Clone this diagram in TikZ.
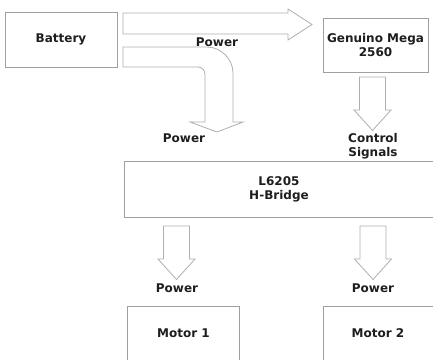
\documentclass[tikz,border=0pt]{standalone}
\usepackage{fontspec}
\setmainfont{DejaVu Sans}
\usetikzlibrary{positioning,calc}
\definecolor{BoxGray}{RGB}{160,160,160}
\definecolor{FlowGray}{RGB}{175,175,175}
\definecolor{TextGray}{RGB}{30,30,30}
\tikzset{
  labelfont/.style={font=\bfseries\fontsize{12}{14.5}\selectfont,text=TextGray},
  blockbox/.style={draw=BoxGray,line width=0.9pt,fill=white,align=center,labelfont,inner sep=0pt},
  openbox/.style={blockbox,draw=none},
  flowlabel/.style={align=center,labelfont,inner sep=0pt},
  flowarrow/.style={draw=FlowGray,line width=0.8pt,fill=white,line join=miter},
  boxedge/.style={draw=BoxGray,line width=0.9pt},
  pics/downflow/.style={code={
    \draw[flowarrow] (-13,0) -- (13,0) -- (13,33) -- (18.5,33) -- (0,53.5)
      -- (-18.5,33) -- (-13,33) -- cycle;
  }}
}
\begin{document}
\begin{tikzpicture}[x=1pt,y=-1pt]
\useasboundingbox (0,0) rectangle (433,360);

% blocks
\node[blockbox,minimum width=112pt,minimum height=55pt] (bat) at (61,39.5) {Battery};
\node[blockbox,minimum width=105pt,minimum height=54pt] (gm) at (375.5,45) {Genuino Mega\\2560};
\node[openbox,minimum width=308pt,minimum height=55pt] (hb) at (279,189.5) {L6205\\H-Bridge};
\draw[boxedge] (hb.north east) -- (hb.north west) -- (hb.south west) -- (hb.south east);
\node[openbox,minimum width=111pt,minimum height=53pt] (m1) at (183.5,333.5) {Motor 1};
\node[openbox,minimum width=109pt,minimum height=53pt] (m2) at (378,333.5) {Motor 2};
\draw[boxedge] (m1.south west) -- (m1.north west) -- (m1.north east) -- (m1.south east);
\draw[boxedge] (m2.south west) -- (m2.north west) -- (m2.north east) -- (m2.south east);

% battery -> genuino
\draw[flowarrow] (123,13) -- (288,13) -- (288,9) -- (312,24.5) -- (288,40)
  -- (288,34) -- (123,34) -- cycle;
\node[flowlabel] (pwa) at (217,42) {Power};

% battery -> h-bridge (bent)
\draw[flowarrow] (123,47) -- (207,47) .. controls (221,47) and (233,59) .. (233,73)
  -- (233,122) -- (243,122) -- (217,132) -- (190,122) -- (205,122) -- (205,75)
  .. controls (205,70) and (202,67) .. (198,67) -- (123,67) -- cycle;
\node[flowlabel] (pwb) at (184,138.5) {Power};

% genuino -> h-bridge
\pic at (372.5,77) {downflow};
\node[flowlabel] (ctl) at (373,146) {Control\\Signals};

% h-bridge -> motors
\pic at (176.5,226) {downflow};
\pic at (373,226) {downflow};
\node[flowlabel] (pw1) at (177,288) {Power};
\node[flowlabel] (pw2) at (373,288) {Power};
\end{tikzpicture}
\end{document}
